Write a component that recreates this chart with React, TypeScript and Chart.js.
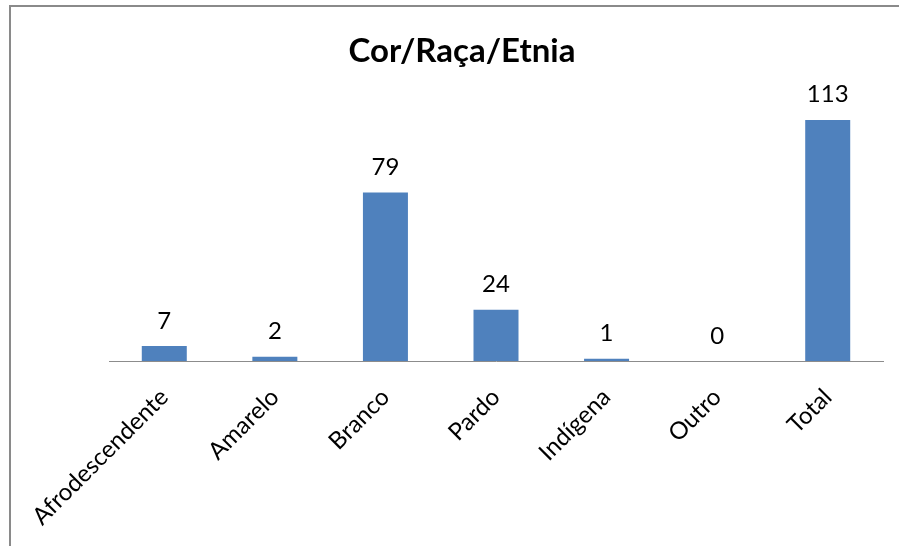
import React, { useEffect, useRef } from "react";
import { Chart, registerables } from "chart.js";

Chart.register(...registerables);

const TITLE = "Cor/Raça/Etnia";
const CATEGORIES = ["Afrodescendente", "Amarelo", "Branco", "Pardo", "Indígena", "Outro", "Total"];
const VALUES = [7, 2, 79, 24, 1, 0, 113];
const Y_MIN = 0;
const Y_MAX = 120;

const W = 899;
const H = 546;

const valueLabels = {
  id: "valueLabels",
  afterDatasetsDraw(chart: any) {
    const ctx = chart.ctx;
    const meta = chart.getDatasetMeta(0);
    ctx.save();
    ctx.font = "24px Lato";
    ctx.fillStyle = "#000000";
    ctx.textAlign = "center";
    ctx.textBaseline = "alphabetic";
    meta.data.forEach((bar: any, i: number) => {
      ctx.fillText(String(VALUES[i]), bar.x, bar.y - 17.5);
    });
    ctx.restore();
  },
};

const titlePlugin = {
  id: "fixedTitle",
  afterDraw(chart: any) {
    const ctx = chart.ctx;
    ctx.save();
    ctx.font = "bold 33px Lato";
    ctx.fillStyle = "#000000";
    ctx.textAlign = "center";
    ctx.textBaseline = "alphabetic";
    ctx.fillText(TITLE, 462, 62);
    ctx.restore();
  },
};

export default function App() {
  const ref = useRef<HTMLCanvasElement | null>(null);

  useEffect(() => {
    if (!ref.current) return;
    const chart = new Chart(ref.current, {
      type: "bar",
      data: {
        labels: CATEGORIES,
        datasets: [
          {
            data: VALUES,
            backgroundColor: "#4f81bd",
            borderWidth: 0,
            categoryPercentage: 1,
            barPercentage: 0.407,
          },
        ],
      },
      options: {
        responsive: false,
        animation: false,
        layout: { padding: { left: 109, right: 16, top: 105, bottom: 0 } },
        plugins: {
          legend: { display: false },
          title: { display: false },
          tooltip: { enabled: false },
        },
        scales: {
          x: {
            grid: { display: false, drawTicks: false },
            border: { display: true, color: "#8c8c8c", width: 1 },
            ticks: {
              minRotation: 45,
              maxRotation: 45,
              autoSkip: false,
              padding: 22,
              color: "#000000",
              font: { family: "Lato", size: 24 },
            },
            afterFit: (scale: any) => {
              scale.height = 185;
            },
          },
          y: {
            display: false,
            min: Y_MIN,
            max: Y_MAX,
          },
        },
      },
      plugins: [valueLabels, titlePlugin],
    });
    return () => chart.destroy();
  }, []);

  return (
    <div style={{ position: "fixed", left: 0, top: 0, width: W, height: H, background: "#ffffff", overflow: "hidden" }}>
      <div
        style={{
          position: "absolute",
          left: 9,
          top: 5,
          width: W - 9,
          height: H - 5,
          boxSizing: "border-box",
          borderTop: "2px solid #8a8a8a",
          borderLeft: "2px solid #8a8a8a",
        }}
      />
      <canvas ref={ref} width={W} height={H} style={{ position: "absolute", left: 0, top: 0 }} />
    </div>
  );
}
